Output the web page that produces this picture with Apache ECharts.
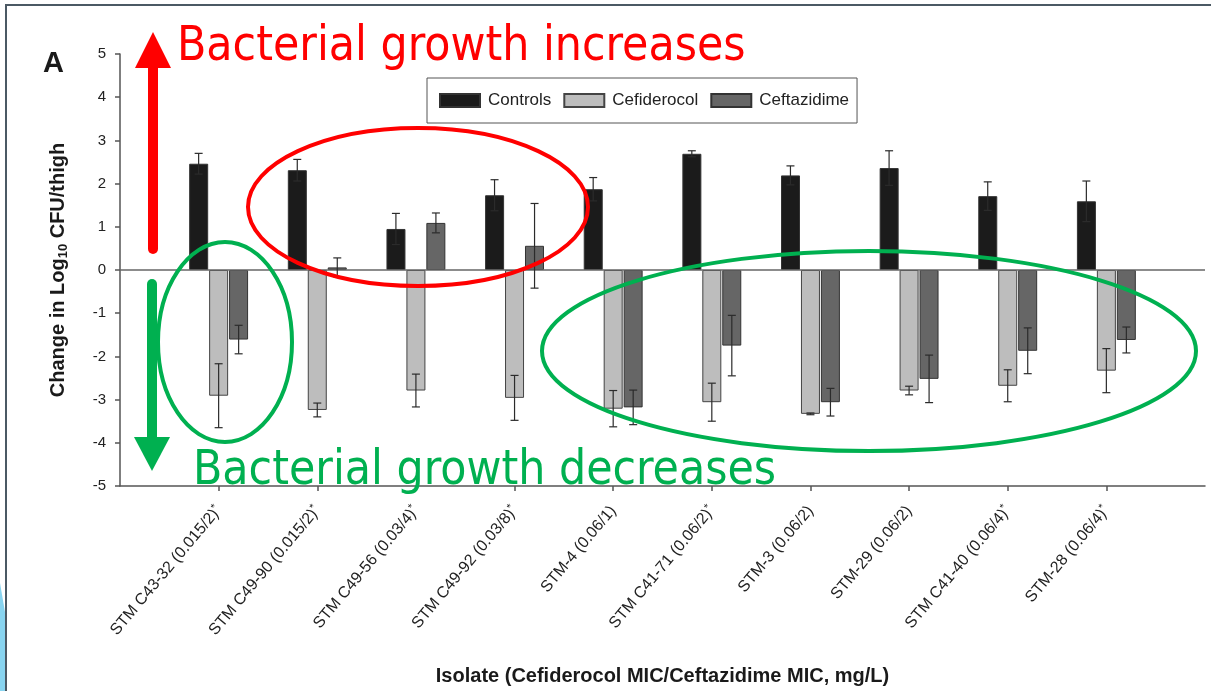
<!DOCTYPE html>
<html>
<head>
<meta charset="utf-8">
<title>Change in Log10 CFU/thigh by isolate</title>
<script src="https://cdn.jsdelivr.net/npm/echarts@6/dist/echarts.min.js"></script>
<style>
  html, body { margin: 0; padding: 0; background: #fff; }
  #chart { width: 1211px; height: 691px; }
</style>
</head>
<body>
<div id="chart"></div>
<script>
// Isolates (Cefiderocol MIC / Ceftazidime MIC, mg/L); a trailing * is drawn as a superscript
const isolates = [
  'STM C43-32 (0.015/2)*',
  'STM C49-90 (0.015/2)*',
  'STM C49-56 (0.03/4)*',
  'STM C49-92 (0.03/8)*',
  'STM-4 (0.06/1)',
  'STM C41-71 (0.06/2)*',
  'STM-3 (0.06/2)',
  'STM-29 (0.06/2)',
  'STM C41-40 (0.06/4)*',
  'STM-28 (0.06/4)*'
];

// Mean change in log10 CFU/thigh and its error
const controls       = [2.46, 2.31, 0.95, 1.73, 1.87, 2.69, 2.19, 2.36, 1.71, 1.59];
const controlsErr    = [0.24, 0.25, 0.36, 0.36, 0.27, 0.07, 0.22, 0.40, 0.33, 0.47];
const cefiderocol    = [-2.91, -3.24, -2.79, -2.96, -3.21, -3.06, -3.33, -2.79, -2.68, -2.33];
const cefiderocolErr = [0.74, 0.16, 0.38, 0.52, 0.42, 0.44, 0.02, 0.10, 0.37, 0.51];
const ceftazidime    = [-1.61, 0.06, 1.09, 0.56, -3.18, -1.75, -3.06, -2.52, -1.87, -1.62];
const ceftazidimeErr = [0.33, 0.22, 0.23, 0.98, 0.40, 0.70, 0.32, 0.55, 0.53, 0.30];

const yTicks = [-5, -4, -3, -2, -1, 0, 1, 2, 3, 4, 5];

// Empty slots at both ends leave one category of space before the first and after the last isolate
const axisCats = [''].concat(isolates, ['']);
const pad = arr => [null].concat(arr, [null]);

const BAR_W = 19;
const BAR_STEP = 20;
const AXIS_FONT = '"Liberation Sans", Arial, sans-serif';
const NOTE_FONT = '"DejaVu Sans Condensed", "DejaVu Sans", sans-serif';

const chart = echarts.init(document.getElementById('chart'), null, { renderer: 'canvas' });

function errorSeries(name, values, errs, offset) {
  return {
    name: name + ' error',
    type: 'custom',
    z: 5,
    silent: true,
    data: values.map((v, i) => [i + 1, v, errs[i]]),
    renderItem: function (params, api) {
      const c = api.value(0), v = api.value(1), e = api.value(2);
      const hi = api.coord([c, v + e]);
      const lo = api.coord([c, v - e]);
      const x = hi[0] + offset;
      const cap = 4;
      const st = { stroke: '#2b2b2b', lineWidth: 1.2 };
      return {
        type: 'group',
        children: [
          { type: 'line', shape: { x1: x, y1: hi[1], x2: x, y2: lo[1] }, style: st },
          { type: 'line', shape: { x1: x - cap, y1: hi[1], x2: x + cap, y2: hi[1] }, style: st },
          { type: 'line', shape: { x1: x - cap, y1: lo[1], x2: x + cap, y2: lo[1] }, style: st }
        ]
      };
    }
  };
}

function fitFont(text, family, weight, width) {
  const ctx = document.createElement('canvas').getContext('2d');
  ctx.font = weight + ' 100px ' + family;
  return 100 * width / ctx.measureText(text).width;
}

const upText = 'Bacterial growth increases';
const downText = 'Bacterial growth decreases';
const noteSize = fitFont(upText, NOTE_FONT, 'normal', 569);

const RED = '#ff0000';
const GREEN = '#00b050';

const option = {
  animation: false,
  backgroundColor: '#ffffff',
  grid: { left: 120, top: 54, width: 1085, height: 433, containLabel: false },
  legend: {
    left: 427,
    top: 78,
    itemWidth: 40,
    itemHeight: 13,
    itemGap: 12,
    icon: 'rect',
    padding: [14, 8, 14, 12],
    borderColor: '#555',
    borderWidth: 1,
    backgroundColor: '#fff',
    selectedMode: false,
    data: ['Controls', 'Cefiderocol', 'Ceftazidime'],
    textStyle: { fontFamily: AXIS_FONT, fontSize: 17, color: '#222', padding: [0, 0, 0, 3] }
  },
  xAxis: {
    type: 'category',
    data: axisCats,
    boundaryGap: false,
    name: 'Isolate (Cefiderocol MIC/Ceftazidime MIC, mg/L)',
    nameLocation: 'middle',
    nameGap: 180,
    nameTextStyle: { fontFamily: AXIS_FONT, fontSize: 20, fontWeight: 'bold', color: '#1a1a1a' },
    axisLine: { onZero: false, lineStyle: { color: '#555', width: 1.5 } },
    axisTick: { length: 5, interval: i => i > 0 && i < axisCats.length - 1, lineStyle: { color: '#555', width: 1.5 } },
    axisLabel: {
      interval: 0,
      rotate: 50,
      margin: 22,
      formatter: v => {
        if (!v) return '';
        return v.endsWith('*') ? '{t|' + v.slice(0, -1) + '}{s|*}' : '{t|' + v + '}';
      },
      rich: {
        t: { fontFamily: AXIS_FONT, fontSize: 16, color: '#222', lineHeight: 18 },
        s: { fontFamily: AXIS_FONT, fontSize: 11, color: '#222', verticalAlign: 'top', lineHeight: 18 }
      }
    },
    splitLine: { show: false }
  },
  yAxis: {
    type: 'value',
    min: yTicks[0],
    max: yTicks[yTicks.length - 1],
    interval: 1,
    name: '{b|Change in Log}{sub|10}{b| CFU/thigh}',
    nameLocation: 'middle',
    nameGap: 50,
    nameRotate: 90,
    nameTextStyle: {
      rich: {
        b: { fontFamily: AXIS_FONT, fontSize: 20, fontWeight: 'bold', color: '#1a1a1a', lineHeight: 24 },
        sub: { fontFamily: AXIS_FONT, fontSize: 13, fontWeight: 'bold', color: '#1a1a1a', verticalAlign: 'bottom', lineHeight: 24 }
      }
    },
    axisLine: { show: true, lineStyle: { color: '#555', width: 1.5 } },
    axisTick: { show: true, length: 5, lineStyle: { color: '#555', width: 1.5 } },
    axisLabel: { fontFamily: AXIS_FONT, fontSize: 15, color: '#222', margin: 14 },
    splitLine: { show: false }
  },
  series: [
    {
      name: 'Controls',
      type: 'bar',
      barWidth: BAR_W,
      barGap: '5%',
      data: pad(controls),
      itemStyle: { color: '#1b1b1b', borderColor: '#333', borderWidth: 1 },
      markLine: {
        silent: true,
        symbol: 'none',
        label: { show: false },
        lineStyle: { color: '#666', width: 1.5, type: 'solid' },
        data: [{ yAxis: 0 }]
      }
    },
    {
      name: 'Cefiderocol',
      type: 'bar',
      barWidth: BAR_W,
      barGap: '5%',
      data: pad(cefiderocol),
      itemStyle: { color: '#bdbdbd', borderColor: '#444', borderWidth: 1 }
    },
    {
      name: 'Ceftazidime',
      type: 'bar',
      barWidth: BAR_W,
      barGap: '5%',
      data: pad(ceftazidime),
      itemStyle: { color: '#666666', borderColor: '#333', borderWidth: 1 }
    },
    errorSeries('Controls', controls, controlsErr, -BAR_STEP),
    errorSeries('Cefiderocol', cefiderocol, cefiderocolErr, 0),
    errorSeries('Ceftazidime', ceftazidime, ceftazidimeErr, BAR_STEP)
  ],
  graphic: [
    // slide frame
    { type: 'line', z: 200, shape: { x1: 5, y1: 5, x2: 1211, y2: 5 }, style: { stroke: '#4b5964', lineWidth: 2 } },
    { type: 'line', z: 200, shape: { x1: 6, y1: 5, x2: 6, y2: 691 }, style: { stroke: '#4b5964', lineWidth: 2 } },
    { type: 'polygon', z: 199, shape: { points: [[0, 583], [5, 612], [5, 691], [0, 691]] }, style: { fill: '#88d4f0' } },
    // panel letter
    { type: 'text', z: 100, left: 43, top: 49, style: { text: 'A', font: 'bold 29px ' + AXIS_FONT, fill: '#1a1a1a' } },
    // growth direction arrows
    { type: 'line', z: 100, shape: { x1: 153, y1: 66, x2: 153, y2: 249 }, style: { stroke: RED, lineWidth: 10, lineCap: 'round' } },
    { type: 'polygon', z: 100, shape: { points: [[153, 32], [171, 68], [135, 68]] }, style: { fill: RED } },
    { type: 'line', z: 100, shape: { x1: 152, y1: 284, x2: 152, y2: 440 }, style: { stroke: GREEN, lineWidth: 10, lineCap: 'round' } },
    { type: 'polygon', z: 100, shape: { points: [[134, 437], [170, 437], [152, 471]] }, style: { fill: GREEN } },
    // highlighted groups
    { type: 'ellipse', z: 100, shape: { cx: 418, cy: 207, rx: 170, ry: 79 }, style: { fill: 'none', stroke: RED, lineWidth: 4 } },
    { type: 'ellipse', z: 100, shape: { cx: 225, cy: 342, rx: 67, ry: 100 }, style: { fill: 'none', stroke: GREEN, lineWidth: 4 } },
    { type: 'ellipse', z: 100, shape: { cx: 869, cy: 351, rx: 327, ry: 100 }, style: { fill: 'none', stroke: GREEN, lineWidth: 4 } },
    // annotations
    { type: 'text', z: 100, x: 177, y: 24, style: { text: upText, font: noteSize.toFixed(1) + 'px ' + NOTE_FONT, fill: RED } },
    { type: 'text', z: 100, x: 193, y: 448, style: { text: downText, font: noteSize.toFixed(1) + 'px ' + NOTE_FONT, fill: GREEN } }
  ]
};

chart.setOption(option);
</script>
</body>
</html>
